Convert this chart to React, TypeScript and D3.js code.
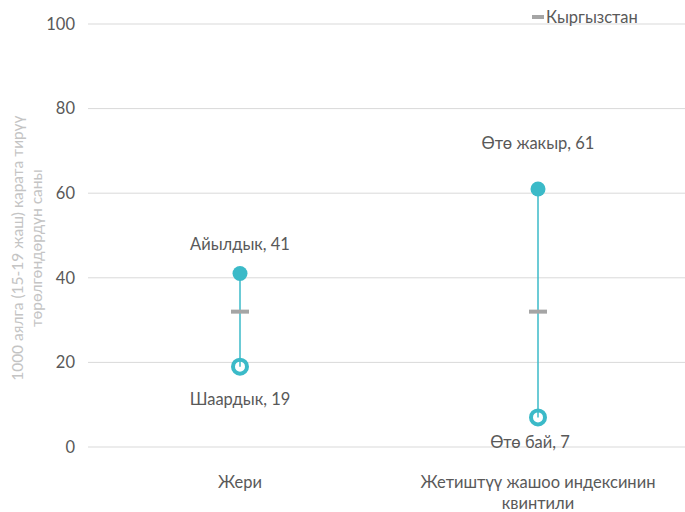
import React from "react";
import * as d3 from "d3";

const categories = ["Жери", "Жетиштүү жашоо индексинин квинтили"];
const categoryLines = [["Жери"], ["Жетиштүү жашоо индексинин", "квинтили"]];
const highLabels = ["Айылдык", "Өтө жакыр"];
const highValues = [41, 61];
const lowLabels = ["Шаардык", "Өтө бай"];
const lowValues = [19, 7];
const nationalValues = [32, 32];
const yTicks = [0, 20, 40, 60, 80, 100];
const legendLabel = "Кыргызстан";
const yTitleLines = ["1000 аялга (15-19 жаш) карата тирүү", "төрөлгөндөрдүн саны"];

const W = 685;
const H = 512;
const FONT = "Lato, 'Open Sans', sans-serif";
const TEAL = "#3bbac8";
const GRID = "#d9d9d9";
const TXT = "#595959";
const FS = 16.5;

// label placement offsets (px) relative to the point
const highDy = [-24, -40];
const lowDy = [38, 31];
const lowDx = [0, -8];

export default function App() {
  const x = d3.scaleBand<string>().domain(categories).range([91, 687]);
  const y = d3.scaleLinear().domain([0, 100]).range([447, 24]);
  const bw = x.bandwidth();

  return (
    <svg width={W} height={H} style={{ position: "absolute", left: 0, top: 0, fontFamily: FONT }}>
      {yTicks.map((t) => (
        <g key={t}>
          <line x1={88} x2={685} y1={y(t)} y2={y(t)} stroke={GRID} strokeWidth={1} />
          <text x={75} y={y(t)} dy="0.35em" textAnchor="end" fontSize={FS} fill={TXT}>
            {t}
          </text>
        </g>
      ))}
      <g transform={`translate(0, ${y(47)}) rotate(-90)`}>
        {yTitleLines.map((l, i) => (
          <text key={i} x={0} y={23 + i * 19} textAnchor="middle" fontSize={15.5} fill="#c4c4c4">
            {l}
          </text>
        ))}
      </g>
      {categories.map((c, i) => {
        const cx = (x(c) as number) + bw / 2;
        return (
          <g key={c}>
            <line x1={cx} x2={cx} y1={y(highValues[i])} y2={y(lowValues[i])} stroke={TEAL} strokeWidth={1.5} />
            <circle cx={cx} cy={y(lowValues[i])} r={7} fill="#fff" stroke={TEAL} strokeWidth={4} />
            <line x1={cx} x2={cx} y1={y(lowValues[i]) - 6} y2={y(lowValues[i])} stroke={TEAL} strokeWidth={1.5} />
            <circle cx={cx} cy={y(highValues[i])} r={7.5} fill={TEAL} />
            <rect x={cx - 9} y={y(nationalValues[i]) - 2} width={18} height={4} fill="#a5a5a5" />
            <text x={cx} y={y(highValues[i]) + highDy[i]} textAnchor="middle" fontSize={FS} fill={TXT}>
              {`${highLabels[i]}, ${highValues[i]}`}
            </text>
            <text x={cx + lowDx[i]} y={y(lowValues[i]) + lowDy[i]} textAnchor="middle" fontSize={FS} fill={TXT}>
              {`${lowLabels[i]}, ${lowValues[i]}`}
            </text>
            {categoryLines[i].map((l, j) => (
              <text key={j} x={cx} y={488 + j * 21} textAnchor="middle" fontSize={FS} fill={TXT}>
                {l}
              </text>
            ))}
          </g>
        );
      })}
      <rect x={532} y={15} width={12} height={4} fill="#a5a5a5" />
      <text x={546} y={17} dy="0.35em" fontSize={FS} fill={TXT}>
        {legendLabel}
      </text>
    </svg>
  );
}
